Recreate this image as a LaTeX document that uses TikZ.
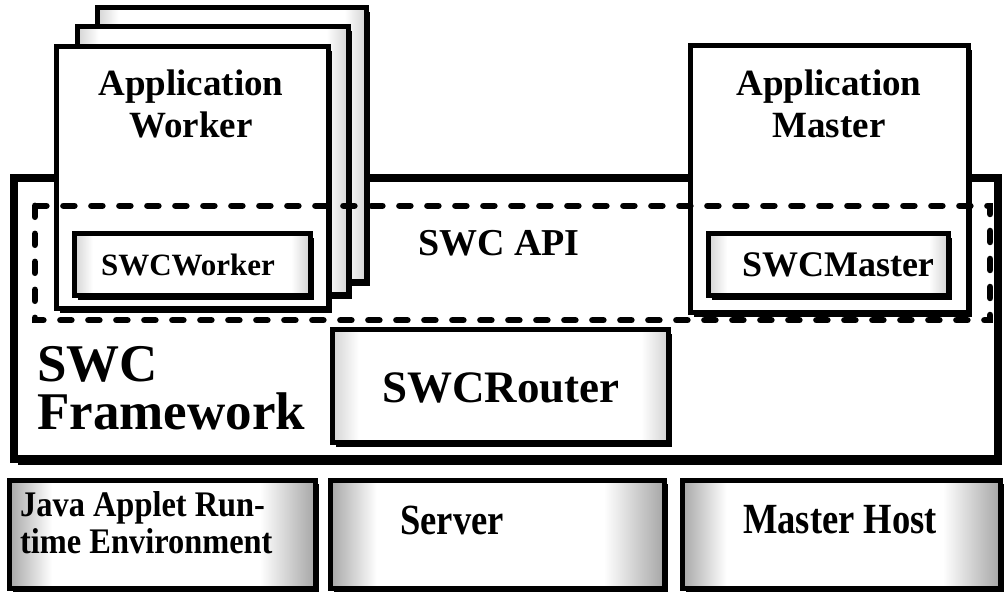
\documentclass[tikz,border=0pt]{standalone}
\usepackage{fontspec}
\setmainfont{Liberation Serif}
\newfontfamily\narrowfont[FakeStretch=0.85]{Liberation Serif}
\newfontfamily\javafont[FakeStretch=0.9]{Liberation Serif}
\usetikzlibrary{shadows,fit}
\pgfdeclarehorizontalshading{softedge}{100bp}{color(0bp)=(gray!35); color(25bp)=(gray!35); color(29bp)=(white); color(71bp)=(white); color(75bp)=(gray!35); color(100bp)=(gray!35)}
\pgfdeclarehorizontalshading{hostedge}{100bp}{color(0bp)=(gray!70); color(25bp)=(gray!70); color(32bp)=(white); color(66bp)=(white); color(75bp)=(gray!70); color(100bp)=(gray!70)}
\tikzset{
  sbox/.style={draw=black, line width=5pt, fill=white, inner sep=0pt,
    general shadow={fill=black, shadow xshift=4pt, shadow yshift=-4pt}},
  framebox/.style={draw=black, line width=8pt, fill=white, inner sep=0pt,
    general shadow={fill=black, shadow xshift=4pt, shadow yshift=-6pt}},
  shadedbox/.style={sbox, shading=softedge},
  hostbox/.style={sbox, shading=hostedge},
  apibox/.style={draw=black, line width=6.5pt, dash pattern=on 11pt off 17pt, line cap=round},
  bigtxt/.style={font=\bfseries\fontsize{37}{42}\selectfont, align=center, inner sep=0pt},
  midtxt/.style={font=\bfseries\fontsize{31}{36}\selectfont, inner sep=0pt},
  fwtxt/.style={font=\bfseries\fontsize{53}{50}\selectfont, align=left, inner sep=0pt},
  hosttxt/.style={font=\narrowfont\bfseries\fontsize{43}{43}\selectfont, inner sep=0pt},
  javatxt/.style={font=\javafont\bfseries\fontsize{36}{37}\selectfont, align=left, inner sep=0pt}
}
\begin{document}
\begin{tikzpicture}[x=1pt,y=-1pt]
\useasboundingbox (0,0) rectangle (1007,601);
% corner coordinates
\coordinate (fw1) at (14,178); \coordinate (fw2) at (998,459);
\coordinate (wb1) at (97,8);   \coordinate (wb2) at (366,282);
\coordinate (wm1) at (77,27);  \coordinate (wm2) at (348,295);
\coordinate (wf1) at (56,47);  \coordinate (wf2) at (328,309);
\coordinate (am1) at (690,46); \coordinate (am2) at (968,313);
\coordinate (sw1) at (74,234); \coordinate (sw2) at (310,296);
\coordinate (sm1) at (708,234);\coordinate (sm2) at (948,296);
\coordinate (rt1) at (332,330);\coordinate (rt2) at (668,443);
\coordinate (ja1) at (9,480);  \coordinate (ja2) at (315,588);
\coordinate (sv1) at (330,480);\coordinate (sv2) at (664,588);
\coordinate (mh1) at (682,480);\coordinate (mh2) at (1000,588);
\coordinate (api1) at (35,206);\coordinate (api2) at (990,320);

\node[framebox, fit=(fw1)(fw2)] (framework) {};
\node[sbox, fit=(wb1)(wb2), shading=softedge] (workerback) {};
\node[sbox, fit=(wm1)(wm2), shading=softedge] (workermid) {};
\node[sbox, fit=(wf1)(wf2)] (worker) {};
\node[sbox, fit=(am1)(am2)] (master) {};
\node[shadedbox, fit=(sw1)(sw2)] (swcworker) {};
\node[shadedbox, fit=(sm1)(sm2)] (swcmaster) {};
\node[shadedbox, fit=(rt1)(rt2)] (router) {};
\node[hostbox, fit=(ja1)(ja2)] (java) {};
\node[hostbox, fit=(sv1)(sv2)] (server) {};
\node[hostbox, fit=(mh1)(mh2)] (masterhost) {};
\node[draw=none, fit=(api1)(api2), inner sep=0pt] (api) {};
\draw[apibox] (api.north west) rectangle (api.south east);

\node[bigtxt] (workertxt) at (191,104) {Application\\Worker};
\node[bigtxt] (mastertxt) at (829,104) {Application\\Master};
\node[bigtxt, font=\bfseries\fontsize{38}{42}\selectfont] (apitxt) at (499,243) {SWC API};
\node[midtxt] (swcworkertxt) at (188,265) {SWCWorker};
\node[midtxt, font=\bfseries\fontsize{36}{36}\selectfont] (swcmastertxt) at (838,265) {SWCMaster};
\node[bigtxt, font=\bfseries\fontsize{45}{45}\selectfont] (routertxt) at (501,388) {SWCRouter};
\node[fwtxt, anchor=west] (fwtxt) at (37,388) {SWC\\[-2pt]Framework};
\node[javatxt, anchor=north west] (javatxt) at (20,491) {Java Applet Run-\\time Environment};
\node[hosttxt] (servertxt) at (452,520) {Server};
\node[hosttxt] (mhtxt) at (840,520) {Master Host};
\end{tikzpicture}
\end{document}
